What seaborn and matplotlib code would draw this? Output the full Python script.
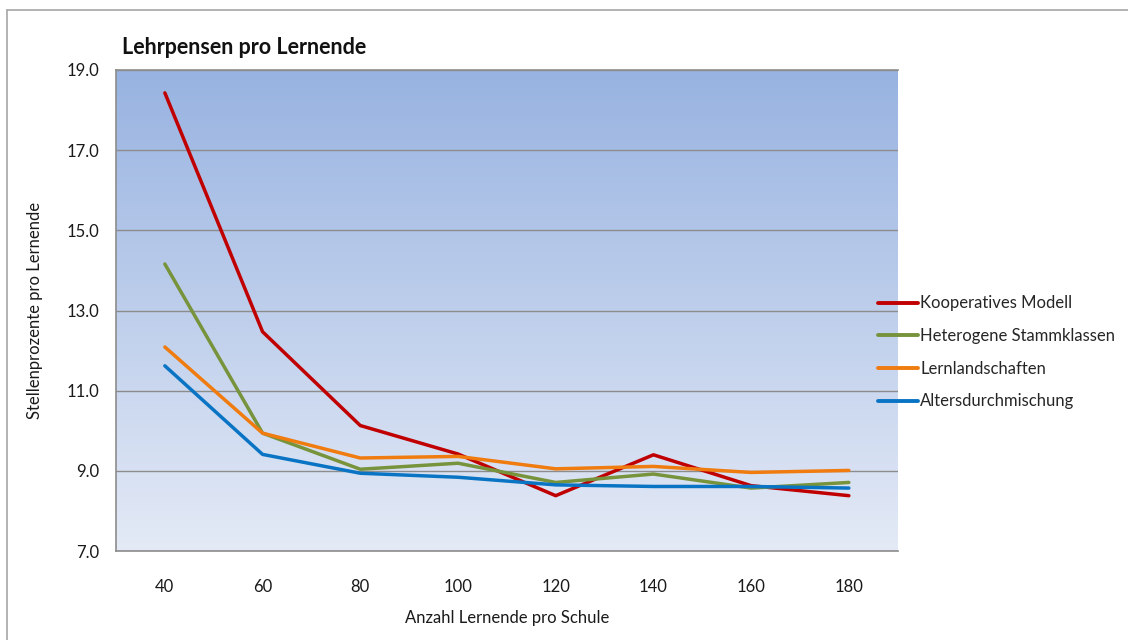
import numpy as np
import pandas as pd
import matplotlib
matplotlib.use("Agg")
import matplotlib.pyplot as plt
import seaborn as sns

schools = [40, 60, 80, 100, 120, 140, 160, 180]
kooperativ = [18.43, 12.47, 10.13, 9.42, 8.38, 9.40, 8.63, 8.38]
heterogen = [14.16, 9.94, 9.04, 9.19, 8.71, 8.92, 8.57, 8.71]
lernland = [12.09, 9.94, 9.32, 9.36, 9.05, 9.11, 8.96, 9.01]
alters = [11.62, 9.41, 8.94, 8.84, 8.65, 8.61, 8.61, 8.57]

names = ["Kooperatives Modell", "Heterogene Stammklassen", "Lernlandschaften", "Altersdurchmischung"]
colors = ["#C00000", "#77933C", "#F07B0F", "#0A74C4"]

df = pd.concat([
    pd.DataFrame({"x": schools, "y": vals, "Modell": n})
    for n, vals in zip(names, [kooperativ, heterogen, lernland, alters])
])

sns.set_style("white")
plt.rcParams['font.family'] = ['Lato', 'DejaVu Sans']

fig = plt.figure(figsize=(11.28, 6.4), dpi=100)
ax = fig.add_axes([116/1128, 1 - 551/640, (897.7 - 116)/1128, (551 - 70)/640])

# gradient background
grad = np.linspace(0, 1, 256).reshape(-1, 1)
top = np.array([152, 179, 225]) / 255
bot = np.array([228, 234, 246]) / 255
img = top + (bot - top) * grad[:, :, None] * np.ones((1, 1, 3))
ax.imshow(img.reshape(256, 1, 3), extent=[0, 1, 0, 1], transform=ax.transAxes,
          aspect="auto", zorder=0, origin="upper")

sns.lineplot(data=df, x="x", y="y", hue="Modell", palette=colors, linewidth=2.5,
             ax=ax, zorder=3, legend=True)

ax.set_xlim(30, 190)
ax.set_ylim(7, 19)
ax.set_xticks(schools)
ax.set_xticklabels([str(s) for s in schools])
yt = [7, 9, 11, 13, 15, 17, 19]
ax.set_yticks(yt)
ax.set_yticklabels([f"{v:.1f}" for v in yt])
ax.yaxis.grid(True, color="#8C8C8C", linewidth=1.0, zorder=1)
ax.set_axisbelow(True)
ax.tick_params(axis="both", length=0, labelsize=12, colors="#1a1a1a")
ax.tick_params(axis="y", pad=12)
ax.tick_params(axis="x", pad=20)
for s in ["left", "bottom", "top"]:
    ax.spines[s].set_color("#8C8C8C")
    ax.spines[s].set_linewidth(1.2)
ax.spines["right"].set_visible(False)

ax.set_xlabel("Anzahl Lernende pro Schule", fontsize=12, labelpad=11, color="#1a1a1a")
ax.set_ylabel("Stellenprozente pro Lernende", fontsize=12, labelpad=17, color="#1a1a1a")

fig.text(122/1128, 1 - 47/640, "Lehrpensen pro Lernende", fontsize=15.5,
         fontweight="bold", va="center", ha="left", color="#111111")

leg = ax.legend(loc="upper left", bbox_to_anchor=(870/1128, 1 - 287/640),
                bbox_transform=fig.transFigure, frameon=False, fontsize=12,
                handlelength=2.4, handletextpad=0.1, labelspacing=1.0,
                borderpad=0.0)
for h in leg.get_lines():
    h.set_linewidth(2.8)

# outer chart border (left and top visible)
fig.add_artist(plt.Line2D([7/1128, 7/1128], [0, 1 - 10/640], transform=fig.transFigure,
                          color="#A6A6A6", linewidth=1.2))
fig.add_artist(plt.Line2D([7/1128, 1], [1 - 10/640, 1 - 10/640], transform=fig.transFigure,
                          color="#A6A6A6", linewidth=1.2))

fig.savefig("out.png", dpi=100)
